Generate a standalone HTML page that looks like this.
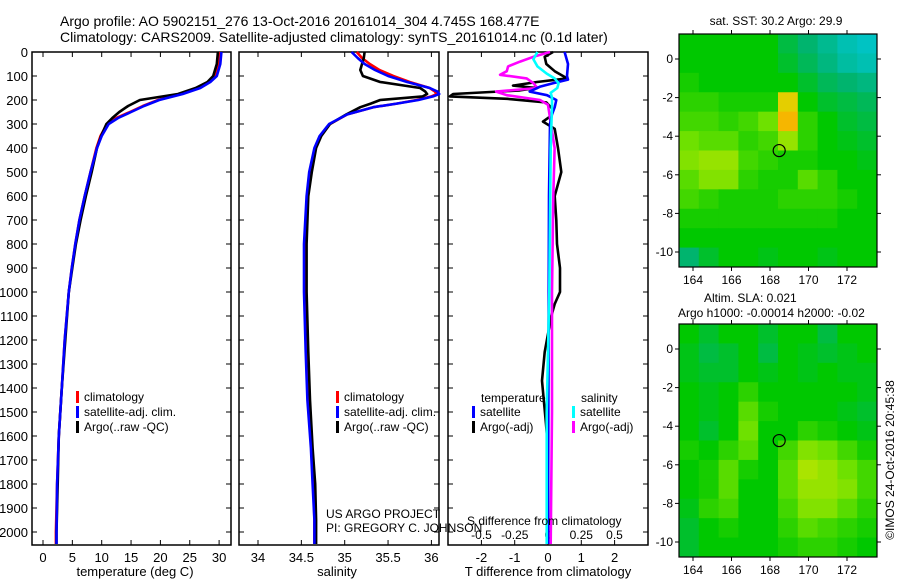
<!DOCTYPE html>
<html><head><meta charset="utf-8"><style>
body{margin:0;background:#fff}
svg{display:block;font-family:"Liberation Sans",sans-serif}
</style></head><body>
<svg id="c" width="900" height="580" xmlns="http://www.w3.org/2000/svg">
<text x="60" y="26" font-size="14">Argo profile: AO 5902151_276 13-Oct-2016 20161014_304 4.745S 168.477E</text>
<text x="60" y="42" font-size="14">Climatology: CARS2009. Satellite-adjusted climatology: synTS_20161014.nc (0.1d later)</text>
</svg>
<script>
// ---- data ----
const tDepth=[0,50,100,125,150,175,200,225,250,275,300,350,400,500,600,700,800,900,1000,1200,1400,1600,1800,2000,2050];
const climT=[30.2,30.0,29.3,28.2,26.5,23.5,19.6,17,14.8,12.5,10.9,9.8,9.1,8.1,7.1,6.2,5.5,4.9,4.4,3.7,3.2,2.7,2.4,2.2,2.2];
const satT=[30.4,30.2,29.6,28.5,26.8,23.8,19.8,17.2,15,12.8,11.2,10,9.2,8.1,7.1,6.2,5.5,4.9,4.4,3.7,3.2,2.7,2.4,2.3,2.3];
const argoT=[29.8,29.6,29.0,28.0,26.0,23.0,16.5,14.5,13,11.8,10.8,9.9,9.2,8.3,7.3,6.4,5.6,5.0,4.4,3.8,3.2,2.7,2.5,2.3,2.3];
const sDepth=[0,25,50,75,100,125,150,165,175,185,200,215,230,260,300,350,400,500,600,800,1000,1250,1450,1650,1800,1950,2050];
const climS=[35.14,35.2,35.29,35.4,35.56,35.75,35.98,36.04,36.06,36.0,35.83,35.6,35.33,35.03,34.83,34.72,34.66,34.6,34.57,34.54,34.54,34.56,34.58,34.62,34.64,34.65,34.65];
const satS=[35.08,35.15,35.23,35.35,35.5,35.72,35.98,36.07,36.09,36.02,35.85,35.6,35.33,35.03,34.82,34.71,34.65,34.59,34.56,34.53,34.53,34.55,34.57,34.61,34.63,34.65,34.65];
const argoS=[35.23,35.22,35.2,35.18,35.21,35.41,35.87,35.93,35.95,35.9,35.41,35.3,35.18,35.02,34.83,34.73,34.67,34.62,34.58,34.56,34.56,34.58,34.6,34.63,34.66,34.67,34.67];
const argoTdDepth=[0,20,50,80,100,110,125,140,150,160,175,185,195,210,240,270,290,320,400,500,600,700,800,900,1000,1050,1100,1250,1370,1550,1650,2050];
const argoTd=[0.15,-0.1,-0.05,0.2,0.45,0.57,-0.33,-1.05,-0.35,-0.84,-2.85,-2.95,-1.23,-0.05,0.15,0.05,-0.15,0.2,0.3,0.4,0.2,0.25,0.27,0.36,0.36,0.2,0.1,-0.1,-0.18,-0.06,0,0];
const satTdDepth=[0,50,100,115,130,145,165,180,200,230,260,300,600,1000,2050];
const satTd=[0.5,0.6,0.57,0.6,0.15,-0.25,-0.55,-0.03,0.25,0.2,0.12,0.06,0.03,0.02,0.0];
const argoSdDepth=[0,20,40,60,80,95,110,130,150,165,180,200,220,400,600,1000,1500,2050];
const argoSd=[0.015,-0.11,-0.21,-0.3,-0.31,-0.36,-0.16,-0.11,-0.08,-0.39,-0.31,-0.06,0,0.05,0.04,0.03,0.03,0.02];
const satSdDepth=[0,30,60,90,110,130,150,170,190,220,400,1000,1500,2050];
const satSd=[-0.08,-0.11,-0.08,-0.01,0.05,0.08,0.07,0.02,0.03,0.03,0.02,0.01,-0.01,-0.01];
const depthTicks=[0,100,200,300,400,500,600,700,800,900,1000,1100,1200,1300,1400,1500,1600,1700,1800,1900,2000];
const tempTicks=[0,5,10,15,20,25,30];
const salTicks=[34,34.5,35,35.5,36];
const tdTicks=[-2,-1,0,1,2];
const sdTicks=[-0.5,-0.25,0,0.25,0.5];
const sdTickLabels=["-0.5","-0.25","0","0.25","0.5"];
const lonTicks=[164,166,168,170,172];
const latTicks=[0,-2,-4,-6,-8,-10];
const sstGrid=[
[0,0,0,0,0,-0.3,-0.5,-0.7,-0.9,-1],
[0,0,0,0,0,-0.2,-0.4,-0.6,-0.8,-0.9],
[0.1,0,0,0,0,0,-0.2,-0.4,-0.5,-0.6],
[0.2,0.2,0.1,0.1,0.1,1.2,0,-0.2,-0.3,-0.4],
[0.3,0.3,0.2,0.3,0.5,1.4,0.2,0,-0.2,-0.3],
[0.5,0.4,0.4,0.2,0.3,0.7,0.2,0,-0.1,-0.2],
[0.6,0.7,0.7,0.3,0.2,0.1,0.1,0,0,-0.1],
[0.4,0.6,0.6,0.2,0.1,0.1,0.4,0.2,0,0],
[0.3,0.2,0.1,0.1,0.1,0.2,0.2,0.2,0.1,0],
[0.1,0.1,0.1,0.1,0.1,0.1,0.1,0.1,0,0],
[0,0,0,0,0,0,0,0,0,0],
[-0.5,-0.2,0,0,-0.1,0,0,-0.1,0,0]];
const slaGrid=[
[0,-0.2,0,0,-0.2,0,0,-0.3,0,0],
[-0.1,-0.3,-0.2,0,-0.3,0,-0.1,-0.2,-0.1,0],
[-0.1,-0.2,-0.2,0,-0.1,0,-0.1,0,-0.1,-0.1],
[0,-0.1,0,0.2,0,0,0,0,0,-0.1],
[0,-0.1,0,0.4,0.1,0,0,0,-0.1,-0.2],
[0,-0.2,0,0.5,0,0,0.2,0.1,0,-0.1],
[0.1,0,0.2,0.4,0,0.3,0.6,0.5,0.3,0.1],
[0,0.1,0.4,0.1,0,0.4,0.8,0.7,0.5,0.3],
[0,0.1,0.4,0,0,0.4,0.7,0.7,0.6,0.3],
[-0.1,0.2,0.3,0,0,0.3,0.6,0.6,0.4,0.2],
[-0.2,0,0.1,0,0,0.2,0.4,0.3,0.2,0.1],
[-0.2,0,0,0,0,0.1,0.2,0.2,0.1,0]];
const argoLon=168.477, argoLat=-4.745;

// ---- helpers ----
const svg=document.getElementById('c');
const NS='http://www.w3.org/2000/svg';
function mk(tag,at,txt){const e=document.createElementNS(NS,tag);for(const k in at)e.setAttribute(k,at[k]);if(txt!==undefined)e.textContent=txt;svg.appendChild(e);return e;}
const yD=d=>52+d*0.24;
const xT=t=>43+t*5.87;
const xS=s=>258+(s-34)*86.7;
const xTd=t=>548+t*33.3;
const xSd=s=>548+s*133;
const PB=545;
function frame(x0,x1,name){const r=mk('rect',{x:x0,y:52,width:x1-x0,height:PB-52,fill:'none',stroke:'#000','stroke-width':1.5});}
function line(xs,ds,fx,color,name){const p=xs.map((v,i)=>fx(v).toFixed(1)+','+yD(ds[i]).toFixed(1)).join(' ');const e=mk('polyline',{points:p,fill:'none',stroke:color,'stroke-width':2.6,'stroke-linejoin':'round'});}
function depthTicksFor(x0,x1,labels){depthTicks.forEach(d=>{const y=yD(d);mk('line',{x1:x0,y1:y,x2:x0+5,y2:y,stroke:'#000'});mk('line',{x1:x1,y1:y,x2:x1-5,y2:y,stroke:'#000'});if(labels){const t=mk('text',{x:28,y:y+5,'font-size':13,'text-anchor':'end'},String(d));}});}
function xTicks(vals,fx,labels){vals.forEach((v,i)=>{const x=fx(v);mk('line',{x1:x,y1:52,x2:x,y2:57,stroke:'#000'});mk('line',{x1:x,y1:PB,x2:x,y2:PB-5,stroke:'#000'});const t=mk('text',{x:x,y:562,'font-size':13,'text-anchor':'middle'},labels?labels[i]:String(v));});}
function legend(x,y,items){items.forEach((it,i)=>{const yy=y+i*15;mk('rect',{x:x,y:yy-10,width:3,height:12,fill:it[0]});const t=mk('text',{x:x+8,y:yy,'font-size':12},it[1]);});}

// Panel 1
frame(32,231,'temperature-panel');
depthTicksFor(32,231,true);
xTicks(tempTicks,xT);
line(climT,tDepth,xT,'#f00','climatology-temperature-line');
line(argoT,tDepth,xT,'#000','argo-temperature-line');
line(satT,tDepth,xT,'#00f','satellite-temperature-line');
legend(76,401,[['#f00','climatology'],['#00f','satellite-adj. clim.'],['#000','Argo(..raw -QC)']]);
let t=mk('text',{x:135,y:576,'font-size':13,'text-anchor':'middle'},'temperature (deg C)');

// Panel 2
frame(239,439,'salinity-panel');
depthTicksFor(239,439,false);
xTicks(salTicks,xS);
line(climS,sDepth,xS,'#f00','climatology-salinity-line');
line(argoS,sDepth,xS,'#000','argo-salinity-line');
line(satS,sDepth,xS,'#00f','satellite-salinity-line');
legend(336,401,[['#f00','climatology'],['#00f','satellite-adj. clim.'],['#000','Argo(..raw -QC)']]);
t=mk('text',{x:337,y:576,'font-size':13,'text-anchor':'middle'},'salinity');
t=mk('text',{x:326,y:518,'font-size':12},'US ARGO PROJECT');
t=mk('text',{x:326,y:532,'font-size':12},'PI: GREGORY C. JOHNSON');

// Panel 3
frame(448,648,'difference-panel');
depthTicksFor(448,648,false);
xTicks(tdTicks,xTd);
sdTicks.forEach((v,i)=>{const tt=mk('text',{x:xSd(v),y:539,'font-size':12,'text-anchor':'middle'},sdTickLabels[i]);});
line(argoTd,argoTdDepth,xTd,'#000','argo-t-diff-line');
line(argoSd,argoSdDepth,xSd,'#f0f','argo-s-diff-line');
line(satTd,satTdDepth,xTd,'#00f','satellite-t-diff-line');
line(satSd,satSdDepth,xSd,'#0ff','satellite-s-diff-line');
t=mk('text',{x:481,y:402,'font-size':12},'temperature');
t=mk('text',{x:581,y:402,'font-size':12},'salinity');
legend(472,416,[['#00f','satellite'],['#000','Argo(-adj)']]);
legend(572,416,[['#0ff','satellite'],['#f0f','Argo(-adj)']]);
t=mk('text',{x:467,y:525,'font-size':12},'S difference from climatology');
t=mk('text',{x:548,y:576,'font-size':13,'text-anchor':'middle'},'T difference from climatology');

// Maps
function cmap(v){const stops=[[-1,[0,195,195]],[-0.5,[0,180,110]],[0,[0,200,0]],[0.5,[110,225,0]],[1,[210,230,0]],[1.5,[255,170,0]]];
if(v<=stops[0][0])return 'rgb('+stops[0][1]+')';for(let i=1;i<stops.length;i++){if(v<=stops[i][0]){const a=stops[i-1],b=stops[i],f=(v-a[0])/(b[0]-a[0]);return 'rgb('+a[1].map((c,j)=>Math.round(c+(b[1][j]-c)*f)).join(',')+')';}}return 'rgb('+stops[stops.length-1][1]+')';}
const MX0=679,MX1=877,LON0=163.3,LON1=173.5;
const lonX=l=>693+(l-164)*19.25;
function drawMap(grid,y0,name){
  const h=233, latY=la=>y0+25+(-la)*19.3;
  const rows=grid.length, cols=grid[0].length, cw=(MX1-MX0)/cols, ch=h/rows;
  grid.forEach((row,r)=>row.forEach((v,c)=>{const e=mk('rect',{x:MX0+c*cw,y:y0+r*ch,width:cw+0.5,height:ch+0.5,fill:cmap(v)});}));
  const f=mk('rect',{x:MX0,y:y0,width:MX1-MX0,height:h,fill:'none',stroke:'#000','stroke-width':1.2});
  lonTicks.forEach(l=>{const x=lonX(l);mk('line',{x1:x,y1:y0,x2:x,y2:y0-4,stroke:'#000'});mk('line',{x1:x,y1:y0+h,x2:x,y2:y0+h+4,stroke:'#000'});const tt=mk('text',{x:x,y:y0+h+17,'font-size':12,'text-anchor':'middle'},String(l));});
  latTicks.forEach(la=>{const y=latY(la);mk('line',{x1:MX0,y1:y,x2:MX0-4,y2:y,stroke:'#000'});mk('line',{x1:MX1,y1:y,x2:MX1+4,y2:y,stroke:'#000'});const tt=mk('text',{x:673,y:y+4,'font-size':12,'text-anchor':'end'},String(la));});
  const ci=mk('circle',{cx:lonX(argoLon),cy:latY(argoLat),r:6,fill:'none',stroke:'#000','stroke-width':1.2});
}
drawMap(sstGrid,34,'sst-map');
drawMap(slaGrid,324,'sla-map');
t=mk('text',{x:776,y:25,'font-size':12,'text-anchor':'middle'},'sat. SST: 30.2 Argo: 29.9');
t=mk('text',{x:704,y:302,'font-size':12},'Altim. SLA: 0.021');
t=mk('text',{x:678,y:317,'font-size':12},'Argo h1000: -0.00014 h2000: -0.02');
t=mk('text',{x:0,y:0,'font-size':12,'text-anchor':'middle',transform:'translate(894,460) rotate(-90)'},'©IMOS 24-Oct-2016 20:45:38');
</script>
</body></html>
